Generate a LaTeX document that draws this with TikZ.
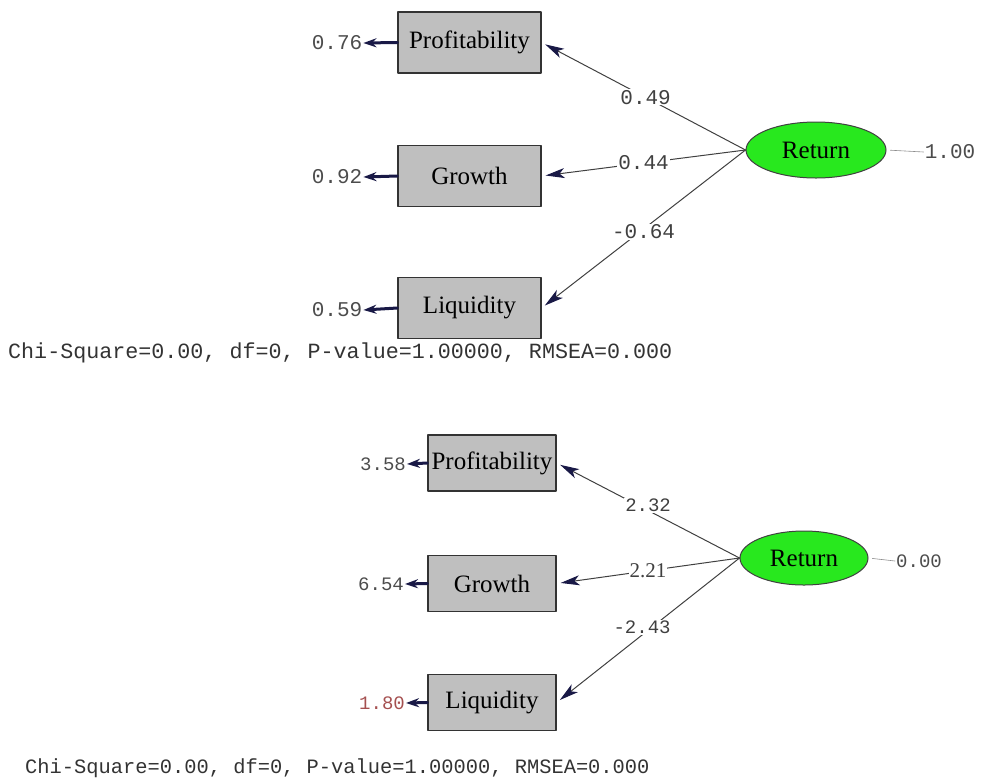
\documentclass[tikz,border=0pt]{standalone}
\usepackage{fontspec}
\setmainfont{Liberation Serif}
\setmonofont{Liberation Mono}
\usetikzlibrary{arrows.meta,shapes.geometric}
\definecolor{ink}{RGB}{25,25,70}
\definecolor{lime}{RGB}{40,232,30}
\definecolor{redval}{RGB}{165,80,80}
\begin{document}
\begin{tikzpicture}[x=1pt,y=-1pt,line cap=round,line join=round,>={Stealth[length=19pt,width=10pt,inset=5pt,color=ink]},
  obs/.style={draw=black!80,fill=black!25,line width=1.3pt,inner sep=0pt,font=\fontsize{25}{25}\selectfont},
  lat/.style={ellipse,draw=black!75,fill=lime,line width=1pt,inner sep=0pt,font=\fontsize{25}{25}\selectfont},
  load/.style={draw=black!75,line width=1pt,shorten >=4pt},
  errv/.style={font=\ttfamily\fontsize{21}{21}\selectfont,text=black!70,inner sep=1pt},
  errarr/.style={draw=ink,line width=3pt,-{Stealth[length=13pt,width=9pt]}},
  coef/.style={midway,fill=white,inner sep=1pt,font=\ttfamily\fontsize{21}{21}\selectfont,text=black!75},
  fit/.style={anchor=west,inner sep=0pt,text=black!80}]
\useasboundingbox (0,0) rectangle (982,780);
%% Mo hinh tren
\node[obs,minimum width=143pt,minimum height=61pt] (prof1) at (469.5,42.5) {Profitability};
\node[obs,minimum width=143pt,minimum height=61pt] (grow1) at (469.5,176) {Growth};
\node[obs,minimum width=143pt,minimum height=61pt] (liq1) at (469.5,308) {Liquidity};
\node[lat,minimum width=140pt,minimum height=56pt] (ret1) at (816,150) {Return};
\node[errv] (e11) at (337,43) {0.76};
\node[errv] (e12) at (337,177) {0.92};
\node[errv] (e13) at (337,310) {0.59};
\node[errv] (v1) at (950,152) {1.00};
\draw[errarr] (prof1.west) -- (e11.east);
\draw[errarr] (grow1.west) -- (e12.east);
\draw[errarr] (liq1.west) -- (e13.east);
\draw[black!45,line width=.6pt,shorten <=4pt] (ret1.east) -- (v1.west);
\draw[load,->] (ret1.west) -- (prof1.east) node[coef,pos=.49] {0.49};
\draw[load,->] (ret1.west) -- (grow1.east) node[coef] {0.44};
\draw[load,->] (ret1.west) -- (liq1.east) node[coef,yshift=-3pt] {-0.64};
\node[fit,font=\ttfamily\fontsize{21.7}{22}\selectfont] (chi1) at (8,353) {Chi-Square=0.00, df=0, P-value=1.00000, RMSEA=0.000};
%% Mo hinh duoi
\node[obs,minimum width=128pt,minimum height=56pt] (prof2) at (492,463) {Profitability};
\node[obs,minimum width=128pt,minimum height=56pt] (grow2) at (492,583.5) {Growth};
\node[obs,minimum width=128pt,minimum height=56pt] (liq2) at (492,702.5) {Liquidity};
\node[lat,minimum width=128pt,minimum height=54pt] (ret2) at (804,558) {Return};
\node[errv,font=\ttfamily\fontsize{19}{19}\selectfont] (e21) at (383,464) {3.58};
\node[errv,font=\ttfamily\fontsize{19}{19}\selectfont] (e22) at (381,584) {6.54};
\node[errv,font=\ttfamily\fontsize{19}{19}\selectfont,text=redval] (e23) at (382,703) {1.80};
\node[errv,font=\ttfamily\fontsize{19}{19}\selectfont] (v2) at (919,561) {0.00};
\draw[errarr] (prof2.west) -- (e21.east);
\draw[errarr] (grow2.west) -- (e22.east);
\draw[errarr] (liq2.west) -- (e23.east);
\draw[black!45,line width=.6pt,shorten <=4pt] (ret2.east) -- (v2.west);
\draw[load,->] (ret2.west) -- (prof2.east) node[coef,yshift=5pt,font=\ttfamily\fontsize{19}{19}\selectfont] {2.32};
\draw[load,->] (ret2.west) -- (grow2.east) node[coef,font=\fontsize{21}{21}\selectfont] {2.21};
\draw[load,->] (ret2.west) -- (liq2.east) node[coef,xshift=-6pt,yshift=3pt,font=\ttfamily\fontsize{19}{19}\selectfont] {-2.43};
\node[fit,font=\ttfamily\fontsize{20.4}{21}\selectfont] (chi2) at (25,768) {Chi-Square=0.00, df=0, P-value=1.00000, RMSEA=0.000};
\end{tikzpicture}
\end{document}
